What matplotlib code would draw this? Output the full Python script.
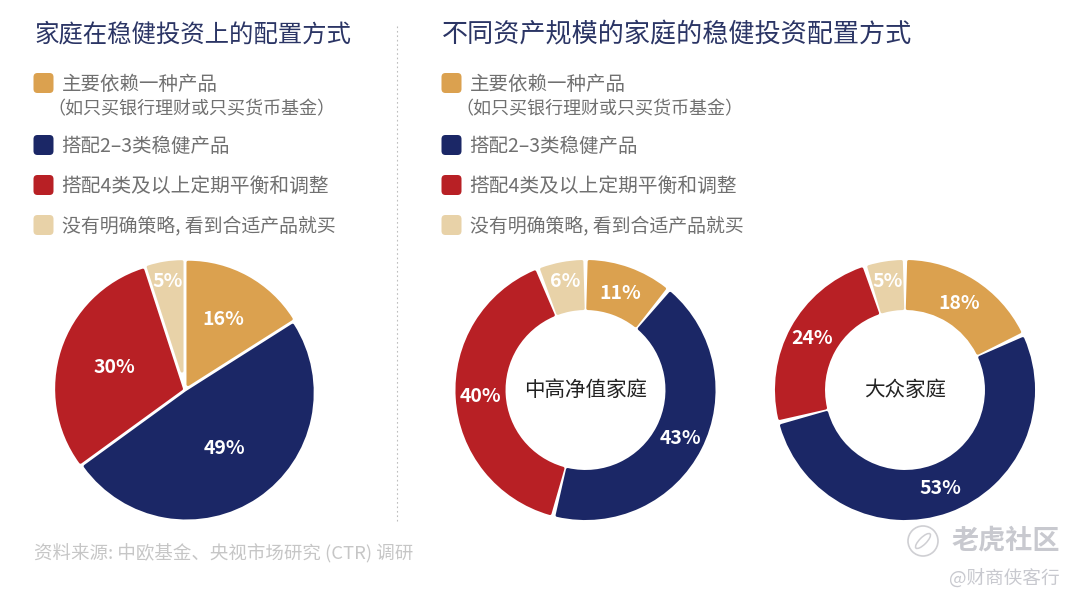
import matplotlib
matplotlib.use("Agg")
import matplotlib.pyplot as plt
from matplotlib.patches import FancyBboxPatch, Circle, Ellipse
import numpy as np

plt.rcParams['font.family'] = ['Noto Sans CJK SC', 'DejaVu Sans']

W, H = 1080, 603

colors = ['#DBA14F', '#1B2766', '#B82025', '#E8D2A8']
legend_labels = ['主要依赖一种产品', '搭配2–3类稳健产品', '搭配4类及以上定期平衡和调整', '没有明确策略, 看到合适产品就买']
legend_note = '（如只买银行理财或只买货币基金）'
all_values = [16, 49, 30, 5]
high_values = [11, 43, 40, 6]
mass_values = [18, 53, 24, 5]
title_left = '家庭在稳健投资上的配置方式'
title_right = '不同资产规模的家庭的稳健投资配置方式'
source = '资料来源: 中欧基金、央视市场研究 (CTR) 调研'

TITLE_C = '#2B3565'
TEXT_C = '#707070'
R_AX = 131.0   # half size of a pie axes, px

fig = plt.figure(figsize=(W / 100, H / 100), dpi=100, facecolor='white')

# full figure axes in pixels, for texts and swatches
bg = fig.add_axes([0, 0, 1, 1])
bg.set_xlim(0, W)
bg.set_ylim(H, 0)
bg.axis('off')


def draw_pie(cx, cy, values, label_r, hole=None):
    ax = fig.add_axes([(cx - R_AX) / W, 1 - (cy + R_AX) / H, 2 * R_AX / W, 2 * R_AX / H])
    wedges, texts, autos = ax.pie(values, colors=colors, startangle=90, counterclock=False,
                                  autopct=lambda p: '%d%%' % round(p),
                                  textprops=dict(color='white', fontsize=14, fontweight='bold'))
    ax.set_xlim(-1, 1)
    ax.set_ylim(-1, 1)
    stroke = 1.5 / R_AX   # half of the rounded outline
    gap = 3.0 / R_AX      # parallel offset of each cut edge
    outer = 130 / R_AX - stroke
    for w, a, d in zip(wedges, autos, label_r):
        t1, t2 = w.theta1, w.theta2
        mid = np.radians((t1 + t2) / 2)
        half = np.radians(t2 - t1) / 2
        w.set_edgecolor(w.get_facecolor())
        w.set_linewidth(2.2)
        w.set_joinstyle('round')
        if hole:
            inner = hole + stroke
            dt = np.degrees(gap / ((outer + inner) / 2))
            w.set_radius(outer)
            w.set_width(outer - inner)
            w.set_theta1(t1 + dt)
            w.set_theta2(t2 - dt)
        else:
            # slide the apex out along the bisector, keeps the gaps even
            shift = gap / np.sin(half)
            w.set_center((shift * np.cos(mid), shift * np.sin(mid)))
            w.set_radius(outer - shift)
        a.set_position((d / R_AX * np.cos(mid), d / R_AX * np.sin(mid)))
        a.set_ha('center')
        a.set_va('center')
    return ax


def draw_legend(x, note_x):
    ys = [83, 145, 185, 225]
    sizes = [14, 14, 14.2, 13.6]
    for y, c, lab, s in zip(ys, colors, legend_labels, sizes):
        bg.add_patch(FancyBboxPatch((x + 3, y - 7), 14, 14, boxstyle='round,pad=3,rounding_size=4',
                                    facecolor=c, edgecolor='none'))
        bg.text(x + 28, y + 1, lab, fontsize=s, color=TEXT_C, va='center', ha='left')
    bg.text(note_x, 109.5, legend_note, fontsize=13, color=TEXT_C, va='center', ha='left')


bg.text(34.5, 34.5, title_left, fontsize=17.6, color=TITLE_C, va='center', ha='left')
bg.text(442, 34.5, title_right, fontsize=18.8, color=TITLE_C, va='center', ha='left')

draw_legend(33.5, 47.5)
draw_legend(441.5, 455.5)

bg.plot([397, 397], [26, 522], color='#BDBDBD', lw=0.8, ls=(0, (1.5, 2.5)))

draw_pie(185, 390, all_values, [80, 71, 74, 110])
ax1 = draw_pie(585.5, 390, high_values, [103, 106, 105, 110], hole=80 / R_AX)
ax1.text(0, 0, '中高净值家庭', fontsize=14.8, color='#222222', ha='center', va='center')
ax2 = draw_pie(905, 390, mass_values, [102, 105, 106, 110], hole=80 / R_AX)
ax2.text(0, 0, '大众家庭', fontsize=14.8, color='#222222', ha='center', va='center')

bg.text(34, 554, source, fontsize=13.3, color='#C6C6C6', va='center', ha='left')

# watermark
bg.add_patch(Circle((923, 541), 15, facecolor='none', edgecolor='#CFCFD3', lw=1.2))
bg.add_patch(Ellipse((923, 541), 20, 7, angle=-45, facecolor='none', edgecolor='#CFCFD3', lw=1.1))
bg.text(1060, 541, '老虎社区', fontsize=19.5, color='#C8C9CF', fontweight='bold', va='center', ha='right')
bg.text(1060, 578, '@财商侠客行', fontsize=13.4, color='#C8C9CF', va='center', ha='right')

fig.savefig('out.png', dpi=100, facecolor='white')
